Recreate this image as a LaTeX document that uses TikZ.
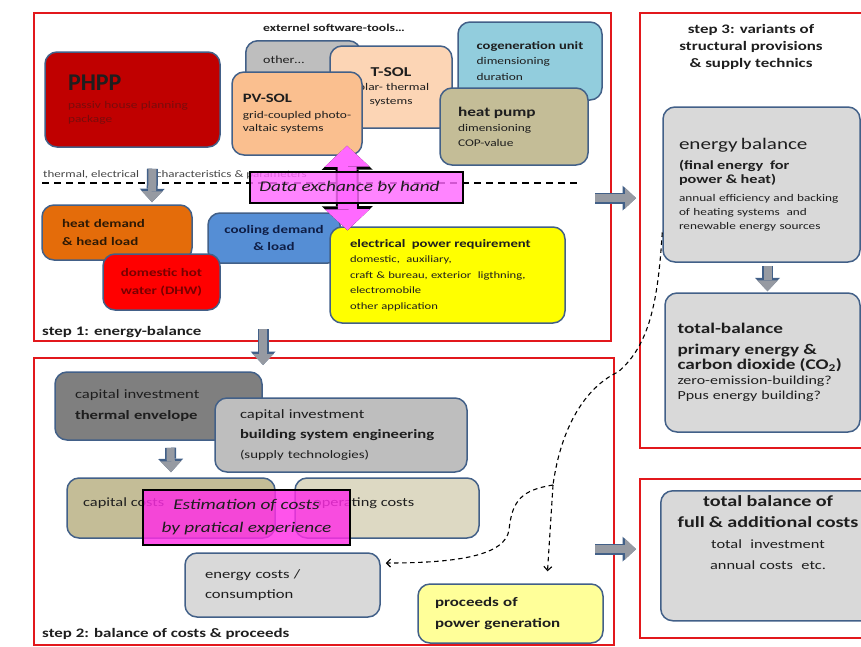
\documentclass[tikz,border=0pt]{standalone}
\usepackage{fontspec}
\setmainfont{Carlito}[FakeStretch=1.3]
\newfontfamily\plainfont{Carlito}
\usetikzlibrary{arrows.meta}
\definecolor{framered}{RGB}{226,24,28}
\definecolor{edgeblue}{RGB}{66,96,136}
\definecolor{inkdark}{RGB}{30,30,30}
\definecolor{inkgrey}{RGB}{70,70,70}
\definecolor{phppred}{RGB}{192,0,0}
\definecolor{phpptext}{RGB}{120,12,12}
\definecolor{toolgrey}{RGB}{190,190,190}
\definecolor{tsolpeach}{RGB}{252,213,181}
\definecolor{pvorange}{RGB}{250,191,143}
\definecolor{cogenblue}{RGB}{146,205,221}
\definecolor{khaki}{RGB}{196,189,151}
\definecolor{lightkhaki}{RGB}{221,217,195}
\definecolor{heatorange}{RGB}{228,108,10}
\definecolor{heattext}{RGB}{45,25,5}
\definecolor{dhwtext}{RGB}{120,0,0}
\definecolor{coolblue}{RGB}{85,142,213}
\definecolor{cooltext}{RGB}{15,30,70}
\definecolor{elecyellow}{RGB}{255,255,0}
\definecolor{darkgrey}{RGB}{127,127,127}
\definecolor{lightgrey}{RGB}{217,217,217}
\definecolor{paleyellow}{RGB}{255,255,153}
\definecolor{handpink}{RGB}{255,105,255}
\definecolor{costpink}{RGB}{255,45,230}
\definecolor{arrowgrey}{RGB}{150,154,162}
\newcommand{\fsz}[2]{\fontsize{#1}{#2}\selectfont}
\tikzstyle{stepframe} = [rectangle, draw=framered, line width=2.2pt, inner sep=0pt, anchor=north west]
\tikzstyle{roundbox} = [rectangle, rounded corners=12pt, draw=edgeblue, line width=1.5pt, text=inkdark, inner sep=0pt]
\tikzstyle{handbox} = [rectangle, draw=black, line width=2pt, fill opacity=0.82, text opacity=1, text=inkdark, inner sep=0pt, align=center]
\tikzstyle{blockarrow} = [line width=8pt, draw=arrowgrey, -{Triangle[length=11pt,width=21pt,line width=0pt]}, preaction={draw=edgeblue, line width=11pt, -{Triangle[length=13.5pt,width=25pt,line width=0pt]}}]
\tikzstyle{handarrow} = [line width=19pt, draw=handpink, {Triangle[length=21pt,width=45pt,line width=0pt]}-{Triangle[length=21pt,width=45pt,line width=0pt]}, preaction={draw=black, line width=23pt, {Triangle[length=24pt,width=51pt,line width=0pt]}-{Triangle[length=24pt,width=51pt,line width=0pt]}}]
\tikzstyle{flowline} = [line width=1.1pt, dash pattern=on 4.5pt off 3.5pt]
\tikzstyle{flow} = [flowline, -{Straight Barb[length=4pt,width=8pt]}]
\tikzstyle{sepline} = [line width=1.8pt, dash pattern=on 7pt off 5pt]
\tikzstyle{steplabel} = [anchor=west, inner sep=0pt, text=inkdark, font=\bfseries\fsz{13}{15}]
\tikzstyle{plaintext} = [anchor=west, inner sep=0pt, text=inkdark]

\begin{document}
\begin{tikzpicture}[x=1pt, y=-1pt]
\useasboundingbox (0,0) rectangle (861,646);
\clip (0,0) rectangle (861,646);

\node (step1) [stepframe, minimum width=577pt, minimum height=328pt] at (33,12) {};
\node (step2) [stepframe, minimum width=580pt, minimum height=287pt] at (33,357) {};
\node (step3) [stepframe, minimum width=240pt, minimum height=435pt] at (639,12) {};
\node (step4) [stepframe, minimum width=240pt, minimum height=159pt] at (639,478) {};

\node (tools) [plaintext, font=\bfseries\fsz{10.5}{12}] at (263,28) {externel software-tools\dots};
\node (other) [roundbox, fill=toolgrey, anchor=north west, minimum width=115pt, minimum height=70pt] at (245,40) {};
\node (othertxt) [plaintext, font=\fsz{10.8}{13}] at (263,60) {other\dots};
\node (tsol) [roundbox, fill=tsolpeach, minimum width=122pt, minimum height=82pt, align=center, font=\fsz{10.3}{14}] at (391,87) {{\bfseries\fsz{13.6}{18}T-SOL}\\solar- thermal\\systems};
\node (pvsol) [roundbox, fill=pvorange, minimum width=130pt, minimum height=83pt, align=left, font=\fsz{10.3}{13}] at (297,113.5) {{\bfseries\fsz{12.8}{16}PV-SOL}\\[3pt]grid-coupled photo-\\valtaic systems};
\node (cogen) [roundbox, fill=cogenblue, minimum width=144pt, minimum height=78pt, align=left, font=\fsz{10.3}{15.5}] at (530,61) {{\bfseries\fsz{11.2}{14}cogeneration unit}\\dimensioning\\duration};
\node (heatpump) [roundbox, fill=khaki, minimum width=148pt, minimum height=77pt, text width=112pt, align=left, font=\fsz{10.3}{15}] at (514,126.5) {{\bfseries\fsz{13.3}{17}heat pump}\\dimensioning\\COP-value};
\node (phpp) [roundbox, fill=phppred, text=phpptext, minimum width=175pt, minimum height=95pt, text width=129pt, align=left, font=\fsz{10.3}{14}] at (132.5,99.5) {{\plainfont\bfseries\fsz{24}{26}\color{inkdark}PHPP}\\[4pt]passiv house planning\\package};

\node (paramtxt) [plaintext, text=inkgrey, font=\fsz{10}{12}] at (43,175) {thermal, electrical\hspace{17pt}characteristics \& parameters};
\coordinate (sepstart) at (42,183);
\coordinate (sepend) at (580,183);
\draw[sepline] (sepstart) -- (sepend);

\node (heat) [roundbox, fill=heatorange, text=heattext, minimum width=150pt, minimum height=55pt, text width=110pt, align=left, font=\bfseries\fsz{11.5}{18}] at (117,232.5) {heat demand\\\& head load};
\node (cooling) [roundbox, fill=coolblue, text=cooltext, minimum width=132pt, minimum height=50pt, align=center, font=\bfseries\fsz{11.5}{17}] at (274,238) {cooling demand\\\& load};
\node (dhw) [roundbox, fill=red, text=dhwtext, minimum width=117pt, minimum height=56pt, align=center, font=\bfseries\fsz{11.5}{18}] at (161.5,282) {domestic hot\\water (DHW)};
\node (elec) [roundbox, fill=elecyellow, minimum width=235pt, minimum height=96pt, text width=195pt, align=left, font=\fsz{9.7}{15.5}] at (447.5,275) {{\bfseries\fsz{11.3}{16}electrical\ \ power requirement}\\domestic,\ \ auxiliary,\\craft \& bureau,\ exterior\ \ ligthning,\\electromobile\\other application};

\draw[blockarrow] ([xshift=20pt,yshift=-21pt]phpp.south) -- ([xshift=35pt,yshift=2pt]heat.north);
\draw[handarrow] ([xshift=50pt,yshift=10pt]pvsol.south) -- ([xshift=-100pt,yshift=-4pt]elec.north);
\node (handdata) [handbox, fill=handpink, minimum width=213pt, minimum height=31pt, font=\itshape\fsz{14.8}{17}] at (356.5,187.5) {Data exchance by hand\hspace*{14pt}};
\node (step1txt) [steplabel] at (42,332) {step 1: energy-balance};

\draw[blockarrow] ([xshift=-59.5pt,yshift=13pt]step1.south) -- ([xshift=-61pt,yshift=-8pt]step2.north);
\draw[blockarrow] ([shift={(-17pt,-21pt)}]step1.east) -- ([shift={(-3pt,32.5pt)}]step3.west);

\node (capenv) [roundbox, fill=darkgrey, minimum width=207pt, minimum height=68pt, text width=167pt, align=left, font=\fsz{12.8}{21}] at (158.5,406) {capital investment\\\textbf{thermal envelope}};
\node (capsys) [roundbox, fill=toolgrey, minimum width=252pt, minimum height=74pt, text width=202pt, align=left, font=\fsz{12.8}{20}] at (341,435) {capital investment\\\textbf{building system engineering}\\{\fsz{11.4}{19}(supply technologies)}};
\node (capcosts) [roundbox, fill=khaki, minimum width=208pt, minimum height=60pt] at (171,508) {};
\node (capcoststxt) [plaintext, font=\fsz{12.6}{15}] at (83,503) {capital costs};
\node (opcosts) [roundbox, fill=lightkhaki, minimum width=184pt, minimum height=60pt] at (387,508) {};
\node (opcoststxt) [plaintext, font=\fsz{12.6}{15}] at (313,503) {operating costs};
\draw[blockarrow] ([xshift=12pt,yshift=-7pt]capenv.south) -- ([yshift=5pt]capcosts.north);
\node (estimate) [handbox, fill=costpink, minimum width=207pt, minimum height=55pt, font=\itshape\fsz{14.8}{23}] at (246.5,517.5) {Estimation of costs\\by pratical experience};
\node (energycosts) [roundbox, fill=lightgrey, minimum width=195pt, minimum height=64pt, text width=155pt, align=left, font=\fsz{12.8}{20}] at (282.5,585) {energy costs /\\consumption};
\node (proceeds) [roundbox, fill=paleyellow, minimum width=185pt, minimum height=59pt, text width=151pt, align=left, font=\bfseries\fsz{13}{21}] at (510.5,613.5) {proceeds of\\power generation};
\node (step2txt) [steplabel] at (42,634) {step 2: balance of costs \& proceeds};

\draw[blockarrow] ([shift={(-20pt,-47.5pt)}]step2.east) -- ([shift={(-3pt,9.5pt)}]step4.west);

\node (step3txt) [align=center, inner sep=0pt, text=inkdark, font=\bfseries\fsz{13}{17}] at (751,47) {step 3: variants of\\structural provisions\\\& supply technics};
\node (ebal) [roundbox, fill=lightgrey, minimum width=197pt, minimum height=155pt, text width=165pt, align=left, font=\fsz{10.2}{14}] at (761.5,184.5) {{\fsz{16.2}{20}energy balance}\\[2pt]{\bfseries\fsz{12.5}{18}(final energy\ \ for\\power \& heat)}\\[4pt]annual efficiency and backing\\of heating systems\ \ and\\renewable energy sources};
\node (tbal) [roundbox, fill=lightgrey, minimum width=195pt, minimum height=139pt, text width=170pt, align=left, font=\fsz{12.3}{15}] at (762.5,362.5) {{\bfseries\fsz{14.8}{21}total-balance\\primary energy \&\\carbon dioxide (CO\textsubscript{2})}\\zero-emission-building?\\Ppus energy building?};
\draw[blockarrow] ([xshift=6pt,yshift=-3pt]ebal.south) -- ([xshift=5pt,yshift=1pt]tbal.north);
\node (costbal) [roundbox, fill=lightgrey, anchor=north west, minimum width=222pt, minimum height=130pt] at (660,490) {};
\node (costbaltxt) [text width=205pt, align=center, inner sep=0pt, text=inkdark, font=\fsz{12.6}{21}] at (768,533) {{\bfseries\fsz{15.5}{19}total balance of\\full \& additional costs}\\total\ \ investment\\annual costs\ \ etc.};

\coordinate (fork) at (553,485);
\draw[flowline] ([yshift=-48pt]ebal.west) .. controls (658,300) and (650,345) .. (618,372) .. controls (590,385) and (562,420) .. (fork);
\draw[flow] (fork) -- ([xshift=37pt,yshift=12pt]proceeds.north);
\draw[flow] (fork) .. controls (522,490) and (512,500) .. (509,530) .. controls (505,555) and (460,563) .. ([xshift=5pt,yshift=22pt]energycosts.east);
\end{tikzpicture}
\end{document}
